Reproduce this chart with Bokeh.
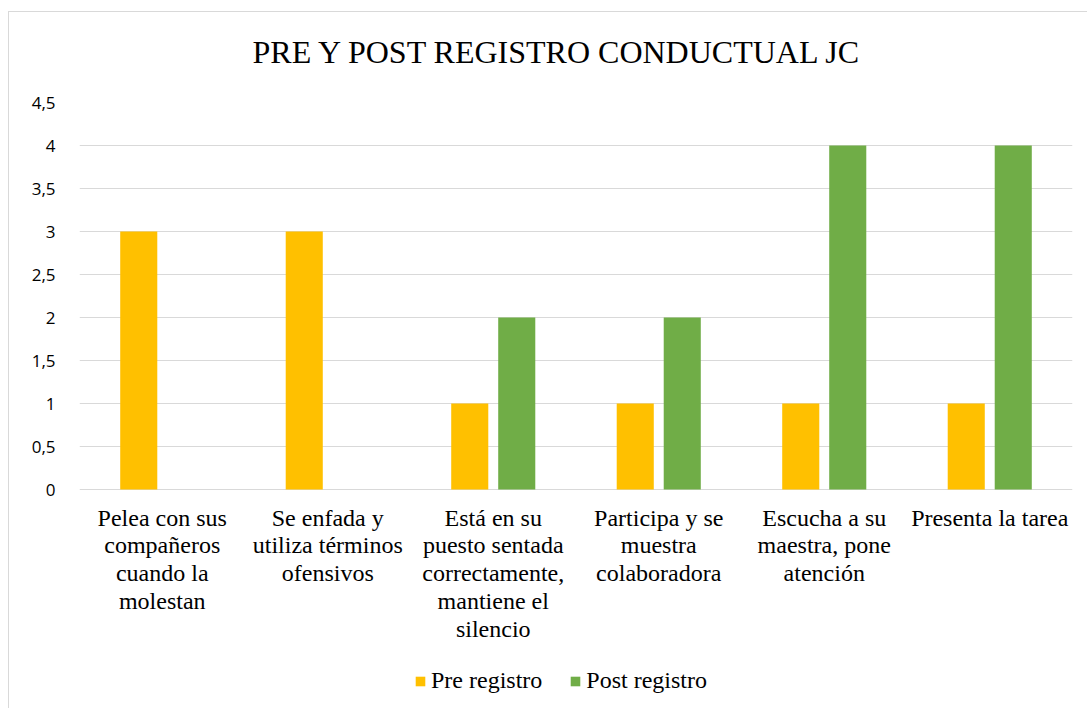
from bokeh.plotting import figure
from bokeh.models import FactorRange, Range1d, FixedTicker, Legend, LegendItem
from bokeh.core.properties import value
from bokeh.transform import dodge
from bokeh.embed import file_html
from bokeh.resources import INLINE

# Category tick labels (wrapped as in the chart)
tick_labels = [
    "Pelea con sus\ncompañeros\ncuando la\nmolestan",
    "Se enfada y\nutiliza términos\nofensivos",
    "Está en su\npuesto sentada\ncorrectamente,\nmantiene el\nsilencio",
    "Participa y se\nmuestra\ncolaboradora",
    "Escucha a su\nmaestra, pone\natención",
    "Presenta la tarea",
]
pre_registro = [3, 3, 1, 1, 1, 1]
post_registro = [0, 0, 2, 2, 4, 4]
y_ticks = [0, 0.5, 1, 1.5, 2, 2.5, 3, 3.5, 4, 4.5]
y_tick_labels = ["0", "0,5", "1", "1,5", "2", "2,5", "3", "3,5", "4", "4,5"]
series_names = ["Pre registro", "Post registro"]
title_text = "PRE Y POST REGISTRO CONDUCTUAL JC"

PRE_COLOR = "#FFC000"
POST_COLOR = "#70AD47"
GRID = "#D9D9D9"

Y_MAX = 4.5
PX_PER_UNIT = 86.0          # vertical scale of the value axis
FRAME_H = 606               # plot frame reaches the bottom of the chart area
Y_MIN = Y_MAX - FRAME_H / PX_PER_UNIT   # room below 0 for category labels and legend
LABEL_Y = -15 / PX_PER_UNIT             # category labels sit 15px under the baseline

p = figure(
    frame_width=993, frame_height=FRAME_H,
    x_range=FactorRange(factors=tick_labels, range_padding=0),
    y_range=Range1d(Y_MIN, Y_MAX),
    x_axis_location=None,
    output_backend="svg", toolbar_location=None,
    min_border_left=70, min_border_right=15, min_border_top=90, min_border_bottom=0,
)
p.styles = {"border-left": "1px solid #D9D9D9", "border-top": "1px solid #D9D9D9",
            "margin-top": "11px", "margin-left": "8px"}
p.outline_line_color = None
p.background_fill_color = "white"
p.border_fill_color = "white"

src = dict(cat=tick_labels, pre=pre_registro, post=post_registro)
r_pre = p.vbar(x=dodge("cat", -0.142, range=p.x_range), top="pre", width=0.224,
               source=src, fill_color=PRE_COLOR, line_color=None)
r_post = p.vbar(x=dodge("cat", 0.142, range=p.x_range), top="post", width=0.224,
                source=src, fill_color=POST_COLOR, line_color=None)

# Category labels under each group
p.text(x="cat", y=LABEL_Y, text="cat", source=src,
       text_align="center", text_baseline="top",
       text_font=value("Liberation Serif"), text_font_size="24px",
       text_line_height=1.07, text_color="#000000")

# Title
p.title.text = title_text
p.title.text_font = "Liberation Serif"
p.title.text_font_size = "32px"
p.title.text_font_style = "normal"
p.title.text_color = "#000000"
p.title.align = "left"
p.title.offset = 173
try:
    p.title.padding = dict(left=0, right=0, top=0, bottom=28)
    p.title.standoff = 10
except Exception:
    p.title.standoff = 54

# Grid
p.xgrid.grid_line_color = None
p.ygrid.ticker = FixedTicker(ticks=y_ticks)
p.ygrid.grid_line_color = GRID
p.ygrid.grid_line_width = 1

# Y axis
p.yaxis.ticker = FixedTicker(ticks=y_ticks)
p.yaxis.major_label_overrides = {(int(t) if t == int(t) else t): lab for t, lab in zip(y_ticks, y_tick_labels)}
p.yaxis.axis_line_color = None
p.yaxis.major_tick_line_color = None
p.yaxis.minor_tick_line_color = None
p.yaxis.major_tick_in = 0
p.yaxis.major_tick_out = 0
p.yaxis.major_label_standoff = 24
p.yaxis.major_label_text_font = "Open Sans"
p.yaxis.major_label_text_font_size = "17px"
p.yaxis.major_label_text_color = "#000000"

# Legend at the bottom of the chart area
legend = Legend(
    items=[LegendItem(label=series_names[0], renderers=[r_pre]),
           LegendItem(label=series_names[1], renderers=[r_post])],
    orientation="horizontal", location=(335, 14),
    glyph_width=12, glyph_height=12, label_standoff=5, spacing=27,
    label_text_font="Liberation Serif", label_text_font_size="24px", label_text_color="#000000",
    border_line_color=None, background_fill_alpha=0, padding=0, margin=0,
)
p.add_layout(legend, "center")

open("out.html", "w").write(file_html(p, INLINE))
